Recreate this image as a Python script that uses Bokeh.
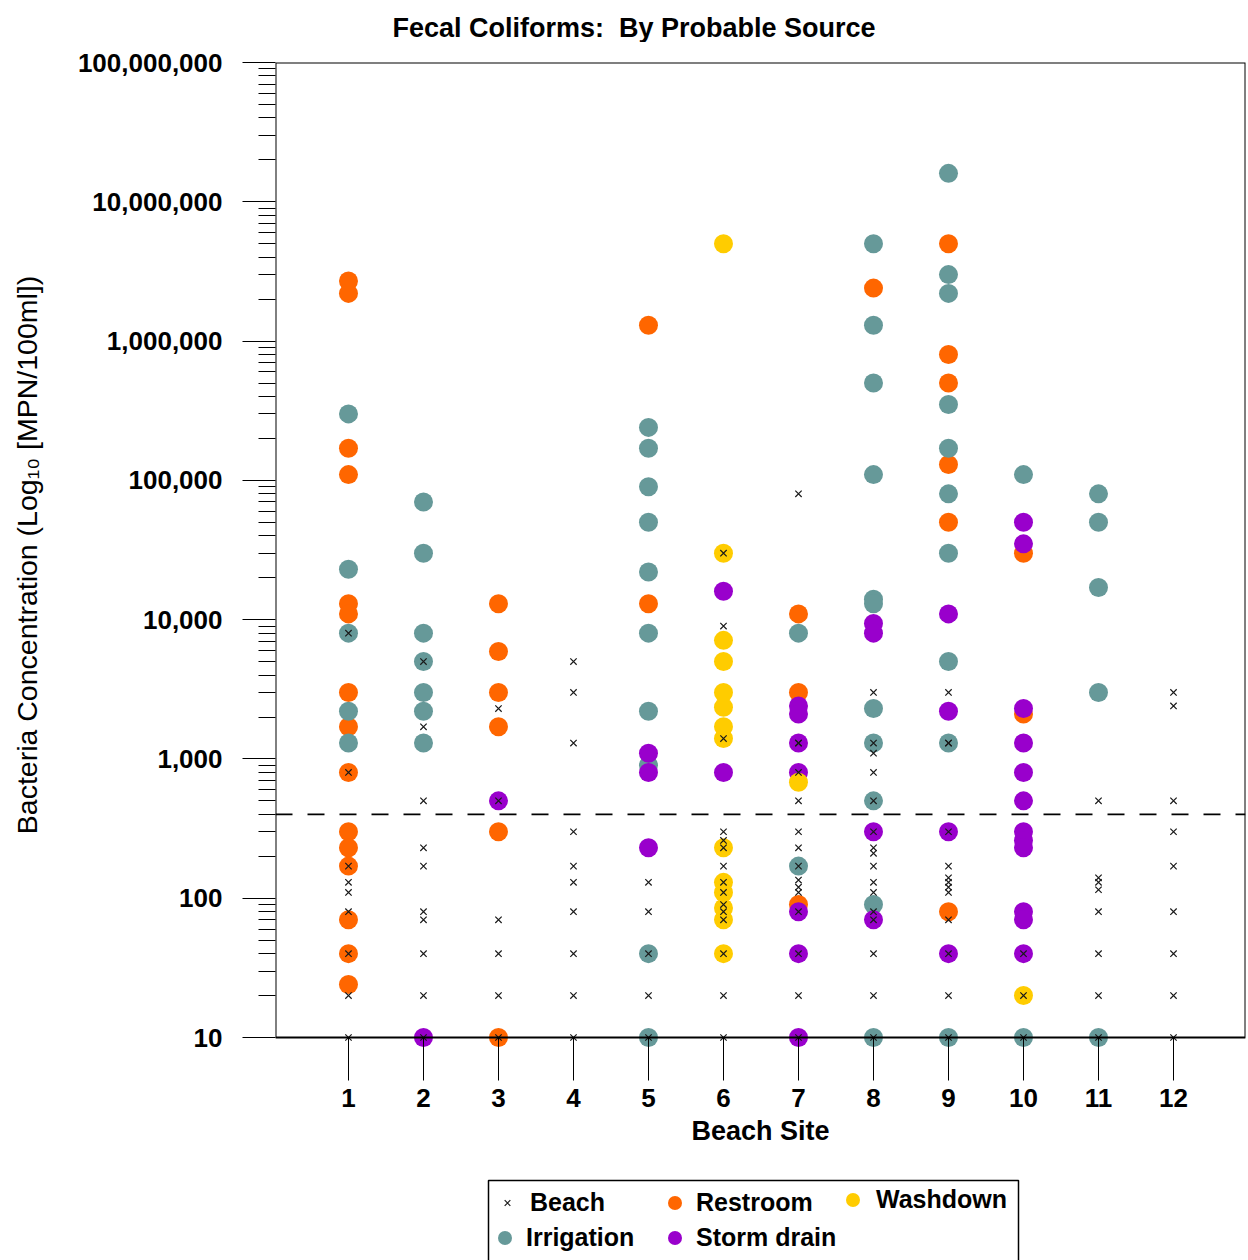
from bokeh.plotting import figure
from bokeh.layouts import column
from bokeh.models import (Range1d, FixedTicker, NumeralTickFormatter, Span,
                          Legend, LegendItem, BoxAnnotation, Label)
from bokeh.embed import file_html
from bokeh.resources import INLINE

# ---------------- data ----------------
sites = list(range(1, 13))
site_labels = [str(s) for s in sites]
y_major = [10, 100, 1000, 10000, 100000, 1000000, 10000000, 100000000]
threshold = 400

beach_site = ([1] * 9 + [2] * 10 + [3] * 6 + [4] * 10 + [5] * 5 + [6] * 15 +
              [7] * 15 + [8] * 16 + [9] * 13 + [10] * 3 + [11] * 8 + [12] * 9)
beach_val = [8000, 800, 170, 130, 110, 80, 40, 20, 10,
             5000, 1700, 500, 230, 170, 80, 70, 40, 20, 10,
             2300, 500, 70, 40, 20, 10,
             5000, 3000, 1300, 300, 170, 130, 80, 40, 20, 10,
             130, 80, 40, 20, 10,
             30000, 9000, 1400, 300, 260, 230, 170, 130, 110, 90, 80, 70, 40, 20, 10,
             80000, 1300, 1300, 800, 500, 300, 230, 170, 135, 120, 110, 80, 40, 20, 10,
             3000, 1300, 1100, 800, 500, 300, 230, 210, 170, 130, 110, 80, 70, 40, 20, 10,
             3000, 1300, 1300, 300, 170, 140, 130, 120, 110, 70, 40, 20, 10,
             40, 20, 10,
             500, 140, 130, 115, 80, 40, 20, 10,
             3000, 2400, 500, 300, 170, 80, 40, 20, 10]

restroom_site = [1] * 15 + [3] * 6 + [5] * 2 + [7] * 3 + [8] + [9] * 6 + [10] * 2
restroom_val = [2700000, 2200000, 170000, 110000, 13000, 11000, 3000, 1700, 800, 300, 230, 170, 70, 40, 24,
                13000, 5900, 3000, 1700, 300, 10,
                1300000, 13000,
                11000, 3000, 90,
                2400000,
                5000000, 800000, 500000, 130000, 50000, 80,
                30000, 2100]

irrigation_site = ([1] * 5 + [2] * 7 + [5] * 10 + [7] * 2 + [8] * 11 + [9] * 10 +
                   [10] * 2 + [11] * 5)
irrigation_val = [300000, 23000, 8000, 2200, 1300,
                  70000, 30000, 8000, 5000, 3000, 2200, 1300,
                  240000, 170000, 90000, 50000, 22000, 8000, 2200, 900, 40, 10,
                  8000, 170,
                  5000000, 1300000, 500000, 110000, 14000, 13000, 2300, 1300, 500, 90, 10,
                  16000000, 3000000, 2200000, 350000, 170000, 80000, 30000, 5000, 1300, 10,
                  110000, 10,
                  80000, 50000, 17000, 3000, 10]

storm_site = [2] + [3] + [5] * 3 + [6] * 2 + [7] * 7 + [8] * 4 + [9] * 4 + [10] * 12
storm_val = [10,
             500,
             1100, 800, 230,
             16000, 800,
             2400, 2100, 1300, 800, 80, 40, 10,
             9400, 8000, 300, 70,
             11000, 2200, 300, 40,
             50000, 35000, 2300, 1300, 800, 500, 300, 260, 230, 80, 70, 40]

washdown_site = [6] * 14 + [7] + [10]
washdown_val = [5000000, 30000, 7100, 5000, 3000, 2350, 1700, 1400, 230, 130, 110, 85, 70, 40,
                680,
                20]

title_text = "Fecal Coliforms:\u00a0 By Probable Source"

# ---------------- styles ----------------
FONT = "Liberation Sans"
C_REST, C_IRR, C_STORM, C_WASH = "#FF6600", "#669999", "#9900CC", "#FFCC00"
X0, X1 = 0.027, 12.96
Y_BOTTOM_PAD = 8.477   # range extends a little below 10 so markers at 10 are not cut
Y0, Y1 = 10, 100000000
W = 1248
FRAME_L, FRAME_R = 275, 1245   # page pixels of the plotting frame (shared by strips)

# ---------------- title strip ----------------
TH = 42
tf = figure(width=W, height=TH, x_range=Range1d(FRAME_L, FRAME_R), y_range=Range1d(0, TH),
            x_axis_type=None, y_axis_type=None, output_backend="svg",
            toolbar_location=None, min_border=0, outline_line_color=None,
            background_fill_color="white", border_fill_color="white")
tf.xgrid.visible = False
tf.ygrid.visible = False
tf.add_layout(Label(x=392, y=TH - 27, text=title_text, text_font=FONT,
                    text_font_size="27px", text_font_style="bold",
                    text_color="black", text_align="left",
                    text_baseline="middle"))

# ---------------- main chart ----------------
p = figure(width=W, height=1175 - TH, x_range=Range1d(X0, X1),
           y_range=Range1d(Y_BOTTOM_PAD, Y1), y_axis_type="log",
           output_backend="svg", toolbar_location=None,
           min_border_left=FRAME_L, min_border_right=W - FRAME_R - 0,
           min_border_top=62 - TH, min_border_bottom=128,
           background_fill_color="white", border_fill_color="white")

p.outline_line_color = None
p.xgrid.visible = False
p.ygrid.visible = False

# plot frame (from 10 to 1e8)
p.add_layout(BoxAnnotation(left=X0, right=X1, bottom=Y0, top=Y1,
                           fill_alpha=0, line_color="black", line_alpha=1,
                           line_width=2))

r_rest = p.scatter(restroom_site, restroom_val, size=19, marker="circle",
                   fill_color=C_REST, line_color=None)
r_irr = p.scatter(irrigation_site, irrigation_val, size=19, marker="circle",
                  fill_color=C_IRR, line_color=None)
r_storm = p.scatter(storm_site, storm_val, size=19, marker="circle",
                    fill_color=C_STORM, line_color=None)
r_wash = p.scatter(washdown_site, washdown_val, size=19, marker="circle",
                   fill_color=C_WASH, line_color=None)
r_beach = p.scatter(beach_site, beach_val, size=9, marker="x",
                    line_color="#1a1a1a", line_width=1.2)

p.add_layout(Span(location=threshold, dimension="width", line_color="black",
                  line_width=1.6, line_dash="17 15"))

# y axis
minor = [m * 10 ** e for e in range(1, 8) for m in range(2, 10)]
yax = p.yaxis[0]
yax.ticker = FixedTicker(ticks=y_major, minor_ticks=minor)
yax.formatter = NumeralTickFormatter(format="0,0")
yax.major_tick_out = 33
yax.major_tick_in = 0
yax.minor_tick_out = 17
yax.minor_tick_in = 0
yax.major_tick_line_color = "black"
yax.minor_tick_line_color = "black"
yax.axis_line_color = None
yax.major_label_standoff = 20
yax.major_label_text_font = FONT
yax.major_label_text_font_size = "26px"
yax.major_label_text_font_style = "bold"
yax.major_label_text_color = "black"
yax.axis_label = "Bacteria Concentration (Log\u2081\u2080 [MPN/100ml])"
yax.axis_label_text_font = FONT
yax.axis_label_text_font_size = "28.5px"
yax.axis_label_text_font_style = "normal"
yax.axis_label_text_color = "black"
yax.axis_label_standoff = 32

# x axis
xax = p.xaxis[0]
xax.ticker = FixedTicker(ticks=sites)
xax.major_label_overrides = {s: l for s, l in zip(sites, site_labels)}
xax.major_tick_out = 33
xax.major_tick_in = 10
xax.minor_tick_out = 0
xax.minor_tick_in = 0
xax.major_tick_line_color = "black"
xax.axis_line_color = None
xax.major_label_standoff = 8
xax.major_label_text_font = FONT
xax.major_label_text_font_size = "26px"
xax.major_label_text_font_style = "bold"
xax.major_label_text_color = "black"
xax.axis_label = "Beach Site"
xax.axis_label_text_font = FONT
xax.axis_label_text_font_size = "27px"
xax.axis_label_text_font_style = "bold"
xax.axis_label_text_color = "black"
xax.axis_label_standoff = 6

# ---------------- legend strip below the chart ----------------
LH = 85
lf = figure(width=W, height=LH, x_range=Range1d(FRAME_L, FRAME_R), y_range=Range1d(0, LH),
            x_axis_type=None, y_axis_type=None,
            output_backend="svg", toolbar_location=None,
            min_border=0, outline_line_color=None,
            background_fill_color="white", border_fill_color="white")
lf.xgrid.visible = False
lf.ygrid.visible = False

# legend proxies (single point placed outside the visible range)
OFF = [-10000]
lg_beach = lf.scatter(OFF, OFF, size=9, marker="x", line_color="#1a1a1a", line_width=1.2)
lg_rest = lf.scatter(OFF, OFF, size=19, marker="circle", fill_color=C_REST, line_color=None)
lg_wash = lf.scatter(OFF, OFF, size=19, marker="circle", fill_color=C_WASH, line_color=None)
lg_irr = lf.scatter(OFF, OFF, size=19, marker="circle", fill_color=C_IRR, line_color=None)
lg_storm = lf.scatter(OFF, OFF, size=19, marker="circle", fill_color=C_STORM, line_color=None)

lf.add_layout(BoxAnnotation(left=488, right=1018, bottom=-3, top=LH - 5,
                            fill_alpha=0, line_color="black", line_alpha=1,
                            line_width=1.5))

common = dict(label_text_font=FONT, label_text_font_size="25px",
              label_text_font_style="bold", label_text_color="black",
              border_line_color=None, background_fill_alpha=0,
              padding=0, spacing=0, margin=0, orientation="horizontal",
              glyph_height=35)

leg_a = Legend(items=[LegendItem(label="Beach", renderers=[lg_beach])],
               location=(222, 40), glyph_width=20, label_standoff=13, **common)
leg_b = Legend(items=[LegendItem(label="Restroom", renderers=[lg_rest])],
               location=(382, 40), glyph_width=35, label_standoff=4, **common)
leg_d = Legend(items=[LegendItem(label="Washdown", renderers=[lg_wash])],
               location=(560, 43), glyph_width=35, label_standoff=6, **common)
leg_c = Legend(items=[LegendItem(label="Irrigation", renderers=[lg_irr]),
                      LegendItem(label="Storm drain", renderers=[lg_storm])],
               location=(212, 5), glyph_width=35, label_standoff=4,
               label_width=131, **common)
for lg in (leg_a, leg_b, leg_d, leg_c):
    lf.add_layout(lg, "center")

layout = column(tf, p, lf, spacing=0)

open("out.html", "w").write(file_html(layout, INLINE))
